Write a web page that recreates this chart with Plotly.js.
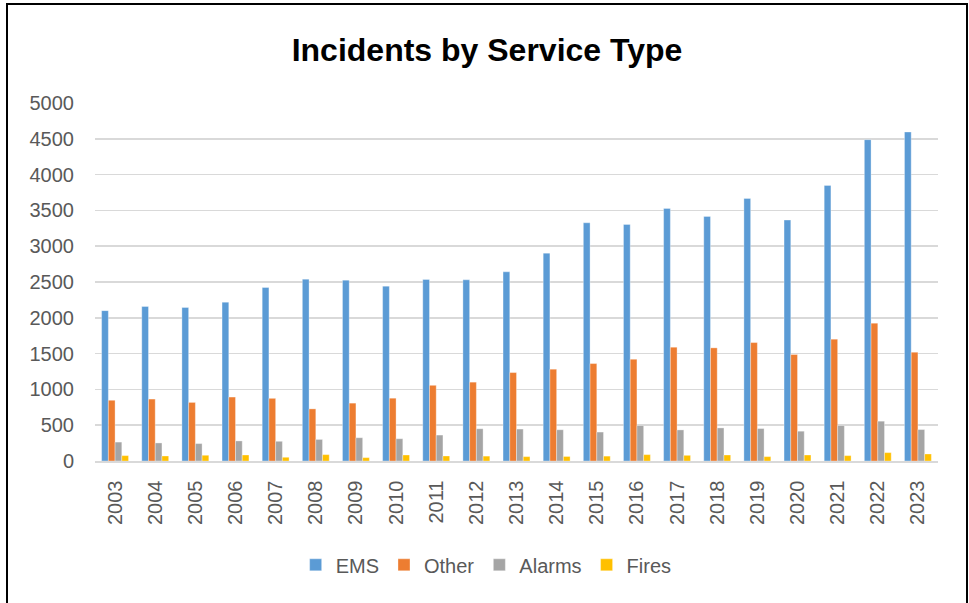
<!DOCTYPE html>
<html>
<head>
<meta charset="utf-8">
<script src="https://cdn.plot.ly/plotly-3.0.1.min.js"></script>
<style>
  html, body { margin: 0; padding: 0; background: #fff; }
  #wrap { position: relative; width: 969px; height: 603px; }
  #chart { width: 969px; height: 603px; }
  #frame { position: absolute; left: 6px; top: 3px; width: 958px; height: 620px;
           border: 2px solid #000; pointer-events: none; box-sizing: content-box; }
</style>
</head>
<body>
<div id="wrap">
  <div id="chart"></div>
  <div id="frame"></div>
</div>
<script>
const years = ["2003","2004","2005","2006","2007","2008","2009","2010","2011","2012","2013",
               "2014","2015","2016","2017","2018","2019","2020","2021","2022","2023"];
const ems    = [2100, 2158, 2144, 2218, 2423, 2540, 2526, 2442, 2535, 2530, 2642,
                2903, 3327, 3304, 3528, 3416, 3667, 3365, 3849, 4488, 4595];
const other  = [848, 865, 818, 893, 875, 728, 808, 877, 1057, 1101, 1235,
                1282, 1361, 1421, 1589, 1580, 1654, 1487, 1701, 1925, 1519];
const alarms = [264, 252, 243, 280, 275, 301, 325, 311, 362, 450, 446,
                436, 404, 495, 434, 462, 453, 416, 495, 556, 439];
const fires  = [75, 70, 80, 84, 52, 89, 47, 84, 70, 68, 61,
                63, 68, 89, 79, 84, 61, 84, 75, 117, 98];
const seriesNames = ["EMS", "Other", "Alarms", "Fires"];
const yTicks = [0, 500, 1000, 1500, 2000, 2500, 3000, 3500, 4000, 4500, 5000];

const colors = ["#5B9BD5", "#ED7D31", "#A5A5A5", "#FFC000"];
const values = [ems, other, alarms, fires];
const font = "Liberation Sans, Arial, sans-serif";
const grey = "#595959";

const traces = values.map((v, i) => ({
  type: "bar",
  name: seriesNames[i],
  x: years,
  y: v,
  marker: { color: colors[i], line: { color: "rgba(255,255,255,0.55)", width: 0.6 } },
  hoverinfo: "x+y+name"
}));

const layout = {
  width: 969, height: 603,
  paper_bgcolor: "#fff", plot_bgcolor: "#fff",
  margin: { l: 95, r: 31, t: 103, b: 142 },
  barmode: "group", bargap: 0.33, bargroupgap: 0,
  title: {
    text: "<b>Incidents by Service Type</b>",
    font: { family: font, size: 32, color: "#000" },
    xref: "container", yref: "container",
    x: 0.5026, xanchor: "center",
    y: 1 - 50/603, yanchor: "middle"
  },
  xaxis: {
    type: "category",
    tickangle: -90,
    tickfont: { family: font, size: 20, color: grey },
    showgrid: false, zeroline: false,
    showline: true, linecolor: "#d9d9d9", linewidth: 1.5,
    ticks: "", ticklabelstandoff: 10
  },
  yaxis: {
    range: [0, 5000],
    tickvals: yTicks,
    ticktext: yTicks.map(String),
    tickfont: { family: font, size: 20, color: grey },
    showgrid: true, gridcolor: "#d9d9d9", gridwidth: 1.5,
    zeroline: false, showline: false, ticks: "",
    ticklabelstandoff: 20
  },
  showlegend: true,
  legend: {
    orientation: "h",
    x: 0.464, xanchor: "center",
    y: -0.29, yanchor: "middle",
    font: { family: font, size: 20, color: grey },
    traceorder: "normal"
  }
};

Plotly.newPlot("chart", traces, layout, { displayModeBar: false, staticPlot: true });
</script>
</body>
</html>
